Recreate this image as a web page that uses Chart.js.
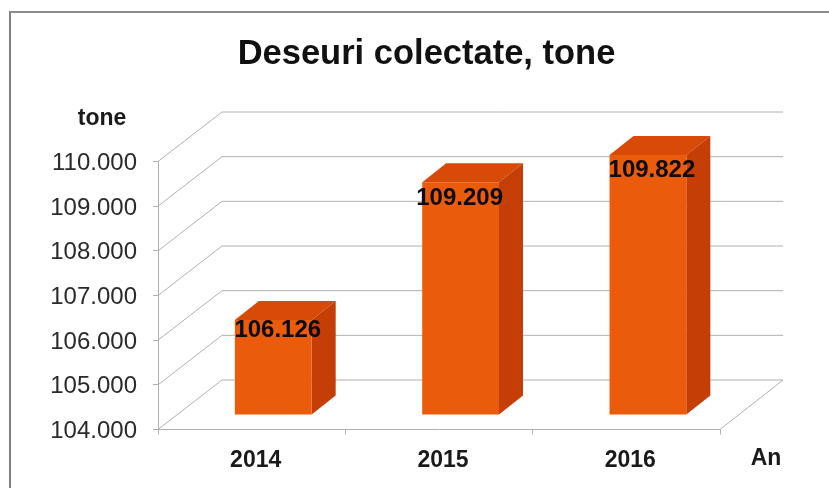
<!DOCTYPE html>
<html>
<head>
<meta charset="utf-8">
<title>Deseuri colectate, tone</title>
<script src="https://cdn.jsdelivr.net/npm/chart.js@4"></script>
<style>
  html, body { margin: 0; background: #fff; }
  #box { position: relative; width: 829px; height: 488px; overflow: hidden; }
  #frame { position: absolute; left: 9px; top: 11px; width: 830px; height: 490px;
           border-left: 2px solid #808080; border-top: 2px solid #8c8c8c; }
  canvas { position: absolute; left: 0; top: 0; }
</style>
</head>
<body>
<div id="box">
  <div id="frame"></div>
  <canvas id="grafic" width="829" height="488"></canvas>
</div>
<script>
// date
const ani = ['2014', '2015', '2016'];
const tone = [106126, 109209, 109822];
const etichete = ['106.126', '109.209', '109.822'];

// adancimea peretilor si a barelor (efectul 3D)
const PERETE = { dx: 64, dy: -49.5 };
const BARA = { dx: 24, dy: -19, mutaX: 21.6, mutaY: -14.5 };
const mutareEticheta = [[4.5, 10], [-1, 16], [4, 15]];

const GRI = '#b0b0b0';
const FONT = '"Liberation Sans", Arial, sans-serif';

function numarCuPunct(v) {
  return String(v).replace(/\B(?=(\d{3})+$)/g, '.');
}

const perete3d = {
  id: 'perete3d',
  // peretii din spate, desenati din scalele graficului
  beforeDatasetsDraw(chart) {
    const { ctx, chartArea: a, scales: { x, y } } = chart;
    ctx.save();
    ctx.strokeStyle = GRI;
    ctx.lineWidth = 1;
    y.ticks.forEach(t => {
      const py = y.getPixelForValue(t.value);
      ctx.beginPath();
      ctx.moveTo(a.left, py);
      ctx.lineTo(a.left + PERETE.dx, py + PERETE.dy);
      ctx.lineTo(a.right + PERETE.dx - 1, py + PERETE.dy);
      ctx.stroke();
    });
    // podeaua, marginea din dreapta
    ctx.beginPath();
    ctx.moveTo(a.right, a.bottom);
    ctx.lineTo(a.right + PERETE.dx - 1, a.bottom + PERETE.dy);
    ctx.stroke();
    ctx.restore();
  },
  // fetele de sus si din dreapta ale barelor
  beforeDatasetDraw(chart) {
    const ctx = chart.ctx;
    ctx.save();
    ctx.translate(BARA.mutaX, BARA.mutaY);
    chart.getDatasetMeta(0).data.forEach(b => {
      const st = b.x - b.width / 2, dr = b.x + b.width / 2;
      ctx.fillStyle = '#d84a08';
      ctx.beginPath();
      ctx.moveTo(st, b.y);
      ctx.lineTo(st + BARA.dx, b.y + BARA.dy);
      ctx.lineTo(dr + BARA.dx, b.y + BARA.dy);
      ctx.lineTo(dr, b.y);
      ctx.closePath();
      ctx.fill();
      ctx.fillStyle = '#c43e06';
      ctx.beginPath();
      ctx.moveTo(dr, b.y);
      ctx.lineTo(dr + BARA.dx, b.y + BARA.dy);
      ctx.lineTo(dr + BARA.dx, b.base + BARA.dy);
      ctx.lineTo(dr, b.base);
      ctx.closePath();
      ctx.fill();
    });
  },
  afterDatasetDraw(chart) {
    chart.ctx.restore();
  },
  // etichetele barelor si titlurile axelor
  afterDraw(chart) {
    const ctx = chart.ctx;
    ctx.save();
    ctx.fillStyle = '#0c0c14';
    ctx.textAlign = 'center';
    ctx.textBaseline = 'middle';
    ctx.font = 'bold 24px ' + FONT;
    chart.getDatasetMeta(0).data.forEach((b, i) => {
      ctx.fillText(etichete[i],
        b.x + BARA.mutaX + mutareEticheta[i][0],
        b.y + BARA.mutaY + mutareEticheta[i][1]);
    });
    ctx.fillStyle = '#1a1a1a';
    ctx.font = 'bold 23px ' + FONT;
    ctx.fillText('tone', 102, 119);
    ctx.fillText('An', 766, 459);
    ctx.restore();
  }
};

new Chart(document.getElementById('grafic'), {
  type: 'bar',
  data: {
    labels: ani,
    datasets: [{
      label: 'Deseuri colectate, tone',
      data: tone,
      base: 104000,
      backgroundColor: '#ea5b0c',
      barPercentage: 0.41,
      categoryPercentage: 1,
      clip: false
    }]
  },
  options: {
    responsive: false,
    animation: false,
    layout: { padding: { left: 24 } },
    plugins: {
      legend: { display: false },
      tooltip: { enabled: false },
      title: {
        display: true,
        text: 'Deseuri colectate, tone',
        color: '#111',
        font: { family: FONT, size: 34.5, weight: 'bold', lineHeight: 1.2 },
        padding: { top: 33.3, bottom: 86.8 }
      }
    },
    scales: {
      x: {
        grid: { drawOnChartArea: false, color: GRI, tickLength: 5 },
        border: { color: GRI },
        ticks: { color: '#1a1a1a', padding: 12, labelOffset: 4, maxRotation: 0,
                 font: { family: FONT, size: 23, weight: 'bold' } },
        afterFit: s => { s.height = 58.5; }
      },
      y: {
        min: 104000,
        max: 110000,
        grid: { drawOnChartArea: false, color: GRI, tickLength: 5 },
        border: { color: GRI },
        ticks: { stepSize: 1000, color: '#2a2a2a', padding: 16, labelOffset: 2,
                 callback: v => numarCuPunct(v),
                 font: { family: FONT, size: 24 } },
        afterFit: s => { s.width = 134; }
      },
      margine: {
        type: 'linear',
        position: 'right',
        grid: { display: false },
        border: { display: false },
        ticks: { display: false },
        afterFit: s => { s.width = 109; }
      }
    }
  },
  plugins: [perete3d]
});
</script>
</body>
</html>
